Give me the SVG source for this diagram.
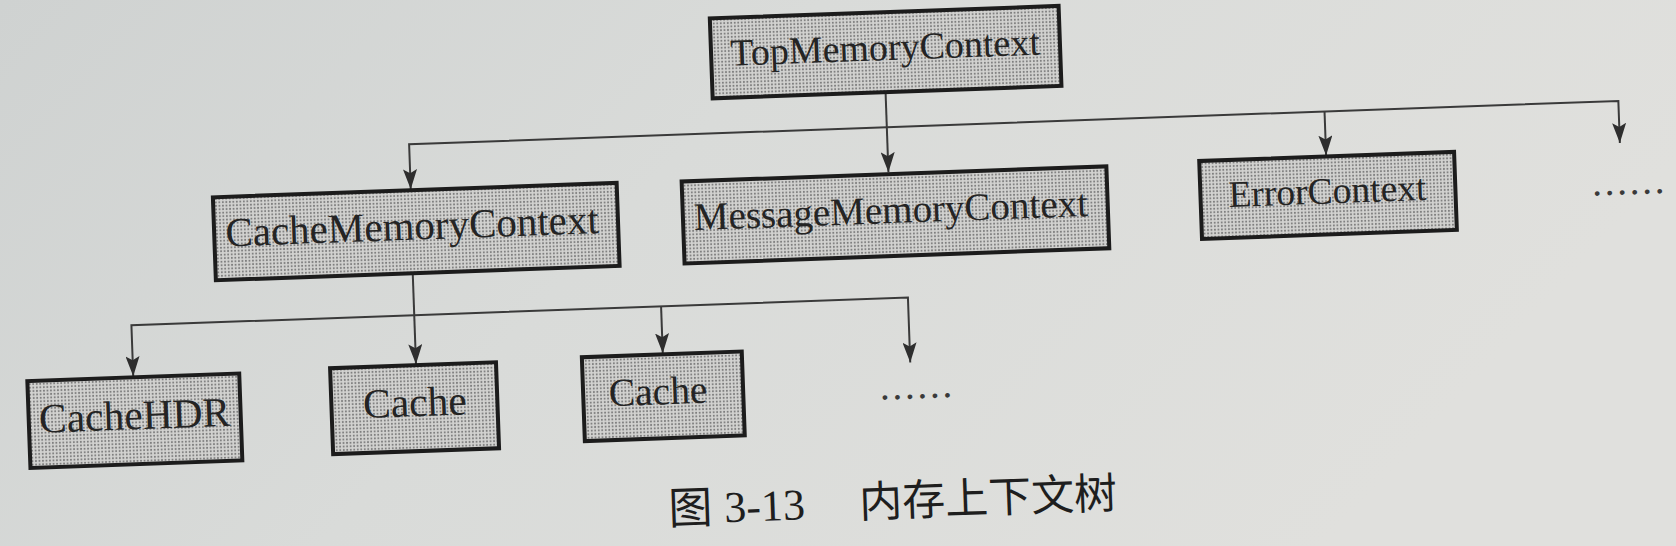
<svg xmlns="http://www.w3.org/2000/svg" width="1676" height="546" viewBox="0 0 1676 546">
  <defs>
    <style>
      .box { fill: url(#screen); stroke: #1c1c1c; stroke-width: 4; }
      .lbl { font-family: "Liberation Serif", "Times New Roman", serif; fill: #242424; text-anchor: middle; }
      .conn { fill: none; stroke: #3a3a3a; stroke-width: 2; }
      .dots { font-family: "Liberation Serif", serif; font-size: 40px; fill: #3a3a3a; text-anchor: middle; letter-spacing: 2.5px; }
      .cap { font-size: 44px; fill: #1e1e1e; }
    </style>
    <linearGradient id="paper" x1="0" y1="0" x2="1" y2="0.3">
      <stop offset="0" stop-color="#cfd2d1"/>
      <stop offset="0.45" stop-color="#d9dbd9"/>
      <stop offset="1" stop-color="#e0e0dd"/>
    </linearGradient>
    <pattern id="screen" width="3.5" height="3.5" patternUnits="userSpaceOnUse">
      <rect width="3.5" height="3.5" fill="#d2d2d0"/>
      <circle cx="1.75" cy="1.75" r="1" fill="#7c7c7c"/>
    </pattern>
    <marker id="arr" viewBox="0 0 20 14" refX="20" refY="7" markerWidth="20" markerHeight="14" markerUnits="userSpaceOnUse" orient="auto">
      <path d="M0,0 L20,7 L0,14 L4,7 Z" fill="#2e2e2e"/>
    </marker>
  </defs>

  <rect width="1676" height="546" fill="url(#paper)"/>

  <g transform="rotate(-2.05 838 273)">
    <g id="connectors">
      <path class="conn" d="M892,94 V174" marker-end="url(#arr)"/>
      <path class="conn" d="M892,129 H414 V174" marker-end="url(#arr)"/>
      <path class="conn" d="M892,129 H1624 V171" marker-end="url(#arr)"/>
      <path class="conn" d="M1330,129 V173" marker-end="url(#arr)"/>
      <path class="conn" d="M413,258 V349" marker-end="url(#arr)"/>
      <path class="conn" d="M413,300 H130 V351" marker-end="url(#arr)"/>
      <path class="conn" d="M413,300 H907 V365" marker-end="url(#arr)"/>
      <path class="conn" d="M660,300 V347" marker-end="url(#arr)"/>
    </g>

    <g id="node-top">
      <rect class="box" x="719" y="14" width="349" height="80"/>
      <text class="lbl" x="893" y="62" font-size="38">TopMemoryContext</text>
    </g>

    <g id="node-cache-memory">
      <rect class="box" x="216" y="175" width="404" height="83"/>
      <text class="lbl" x="414" y="224.5" font-size="41">CacheMemoryContext</text>
    </g>

    <g id="node-message-memory">
      <rect class="box" x="685" y="176" width="425" height="82"/>
      <text class="lbl" x="893" y="225" font-size="39">MessageMemoryContext</text>
    </g>

    <g id="node-error">
      <rect class="box" x="1203" y="174" width="255" height="78"/>
      <text class="lbl" x="1330" y="221" font-size="37.5">ErrorContext</text>
    </g>

    <g id="node-more-top">
      <text class="dots" x="1632" y="222.5">......</text>
    </g>

    <g id="node-cachehdr">
      <rect class="box" x="24" y="352" width="212" height="87"/>
      <text class="lbl" x="130" y="404" font-size="41.5">CacheHDR</text>
    </g>

    <g id="node-cache-1">
      <rect class="box" x="327" y="350" width="166" height="86"/>
      <text class="lbl" x="410.5" y="401" font-size="41.5">Cache</text>
    </g>

    <g id="node-cache-2">
      <rect class="box" x="579" y="348" width="160" height="84"/>
      <text class="lbl" x="654" y="398" font-size="39.5">Cache</text>
    </g>

    <g id="node-more-bottom">
      <text class="dots" x="913" y="401">......</text>
    </g>

    <g id="caption">
      <text class="cap" y="518"><tspan x="660" font-family="'Noto Sans CJK SC', sans-serif">图</tspan><tspan x="716" font-family="'Liberation Serif', serif">3-13</tspan><tspan x="851" font-family="'Noto Sans CJK SC', sans-serif" font-size="43">内存上下文树</tspan></text>
    </g>
  </g>
</svg>
